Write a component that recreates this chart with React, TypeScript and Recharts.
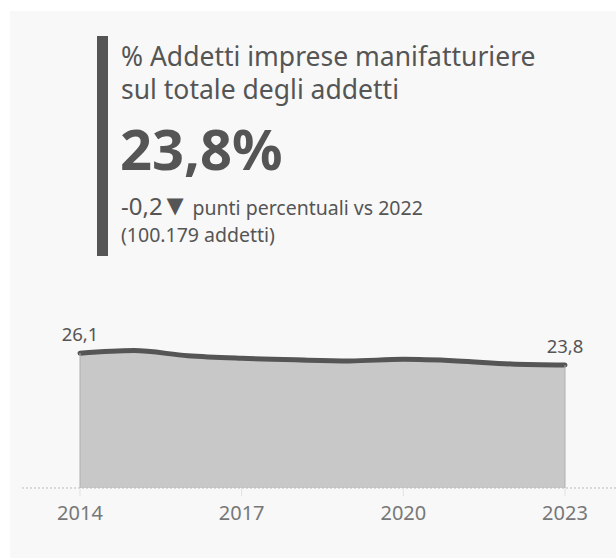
import React from "react";
import {
  Area,
  ComposedChart,
  LabelList,
  ReferenceLine,
  XAxis,
  YAxis,
} from "recharts";

const years = [2014, 2015, 2016, 2017, 2018, 2019, 2020, 2021, 2022, 2023];
const sharePct = [26.1, 26.6, 25.6, 25.1, 24.8, 24.6, 24.9, 24.6, 24.0, 23.8];
const yearTicks = [2014, 2017, 2020, 2023];

const data = years.map((year, i) => ({ year, share: sharePct[i] }));
const lastIdx = data.length - 1;

const font = "'Noto Sans', sans-serif";
const ink = "#555555";

const fmt = (v: number) => v.toFixed(1).replace(".", ",");

const EndLabel = (props: any) => {
  const { x, y, value, index } = props;
  if (index !== 0 && index !== lastIdx) return null;
  return (
    <text
      x={x}
      y={y - 12}
      textAnchor="middle"
      fill={ink}
      fontSize={18.5}
      fontFamily={font}
    >
      {fmt(value)}
    </text>
  );
};

const App = () => {
  return (
    <div
      style={{
        position: "absolute",
        left: 10,
        top: 11,
        width: 606,
        height: 547,
        background: "#f8f8f8",
        fontFamily: font,
        color: ink,
      }}
    >
      <div
        style={{
          position: "absolute",
          left: 87,
          top: 25,
          width: 11,
          height: 220,
          background: ink,
        }}
      />
      <div
        style={{
          position: "absolute",
          left: 111,
          top: 29,
          fontSize: 26.5,
          lineHeight: "33px",
          whiteSpace: "nowrap",
        }}
      >
        % Addetti imprese manifatturiere
        <br />
        sul totale degli addetti
      </div>
      <div
        style={{
          position: "absolute",
          left: 110,
          top: 107,
          fontSize: 56,
          fontWeight: 700,
          lineHeight: "60px",
        }}
      >
        23,8%
      </div>
      <div
        style={{
          position: "absolute",
          left: 111,
          top: 182,
          fontSize: 24,
          lineHeight: "22px",
          whiteSpace: "nowrap",
        }}
      >
        -0,2
        <span style={{ fontSize: 29, lineHeight: "22px", marginLeft: -2 }}>
          ▼
        </span>
        <span style={{ fontSize: 19.5, marginLeft: -2 }}>
          {" "}punti percentuali vs 2022
        </span>
      </div>
      <div
        style={{
          position: "absolute",
          left: 111,
          top: 213,
          fontSize: 19.5,
          lineHeight: "22px",
          whiteSpace: "nowrap",
        }}
      >
        (100.179 addetti)
      </div>

      <div style={{ position: "absolute", left: 0, top: 289 }}>
        <ComposedChart
          width={606}
          height={228}
          data={data}
          margin={{ top: 33, right: 0, bottom: 0, left: 12 }}
        >
          <XAxis
            dataKey="year"
            type="number"
            domain={[2014, 2023]}
            ticks={yearTicks}
            padding={{ left: 58, right: 51 }}
            height={40}
            axisLine={{ stroke: "#bbbbbb", strokeDasharray: "2 2" }}
            tickLine={{ stroke: "#e2e2e2" }}
            tickSize={8}
            tickMargin={10}
            tick={{ fill: "#777777", fontSize: 20, fontFamily: font }}
          />
          <YAxis hide domain={[0, 30]} />
          <ReferenceLine
            segment={[
              { x: years[0], y: 0 },
              { x: years[0], y: sharePct[0] },
            ]}
            stroke="#b0b0b0"
          />
          <ReferenceLine
            segment={[
              { x: years[lastIdx], y: 0 },
              { x: years[lastIdx], y: sharePct[lastIdx] },
            ]}
            stroke="#b0b0b0"
          />
          <Area
            type="monotone"
            dataKey="share"
            stroke={ink}
            strokeWidth={5}
            strokeLinecap="round"
            fill="#c8c8c8"
            fillOpacity={1}
            isAnimationActive={false}
          >
            <LabelList dataKey="share" content={<EndLabel />} />
          </Area>
        </ComposedChart>
      </div>
    </div>
  );
};

export default App;
